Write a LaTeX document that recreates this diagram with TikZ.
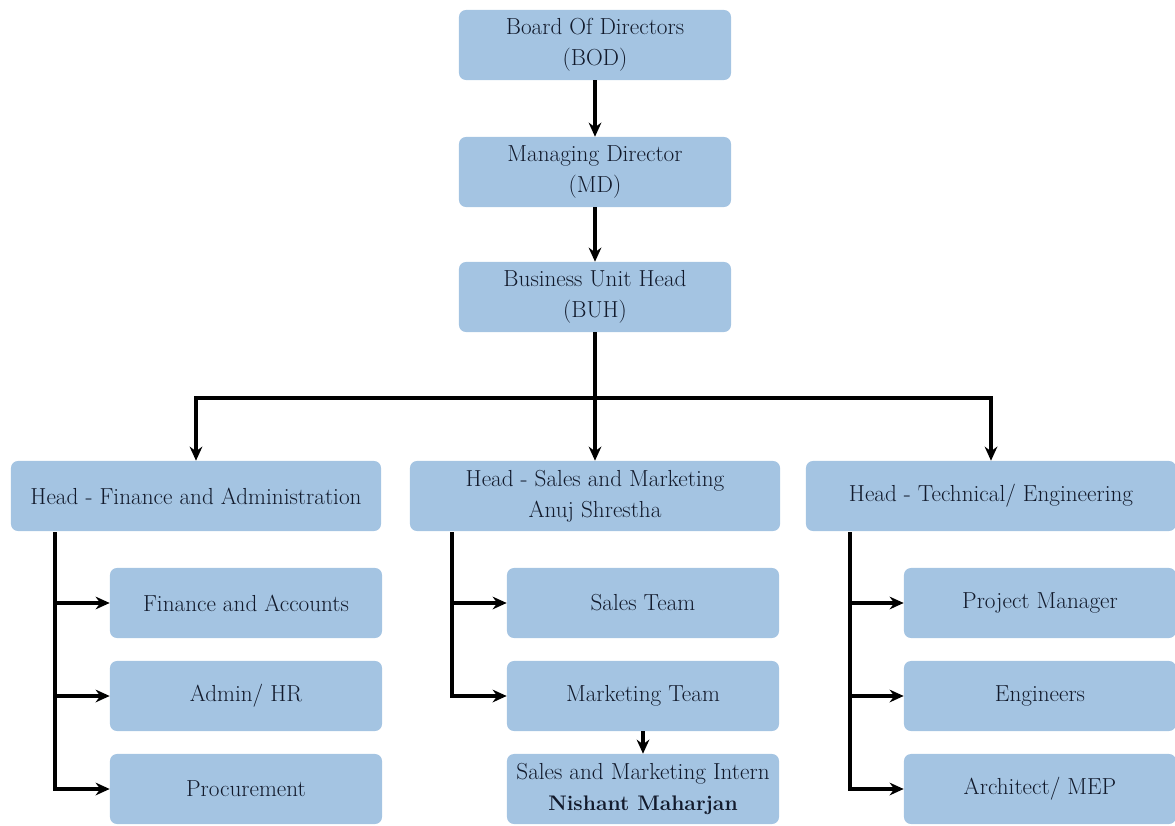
\documentclass[tikz,border=0pt]{standalone}
\usetikzlibrary{arrows.meta}
\definecolor{boxblue}{RGB}{164,196,226}
\definecolor{boxtext}{RGB}{18,26,44}
\begin{document}
\begin{tikzpicture}[
            x=0.025cm, y=-0.025cm,
            >={Stealth[length=10pt,width=9pt]},
            unit/.style={rectangle, rounded corners=5pt, fill=boxblue, text=boxtext,
                         minimum width=6.8cm, minimum height=1.75cm, inner sep=2pt,
                         align=center, font=\fontsize{16.5}{22}\selectfont},
            head/.style={unit, minimum width=9.25cm},
            link/.style={draw=black, line width=2.2pt}
            ]
            \useasboundingbox (0,0) rectangle (1175,826);

            % top of the chart
            \node[unit] (bod) at (595,45) {Board Of Directors\\(BOD)};
            \node[unit] (md) at (595,172) {Managing Director\\(MD)};
            \node[unit] (buh) at (595,297) {Business Unit Head\\(BUH)};

            % heads
            \node[head] (hfa) at (196,496) {Head - Finance and Administration};
            \node[head] (hsm) at (595,496) {Head - Sales and Marketing\\Anuj Shrestha};
            \node[head] (hte) at (991,496) {Head - Technical/ Engineering};

            % finance and administration
            \node[unit] (fa) at (246,603) {Finance and Accounts};
            \node[unit] (hr) at (246,696) {Admin/ HR};
            \node[unit] (pro) at (246,789) {Procurement};

            % sales and marketing
            \node[unit] (st) at (643,603) {Sales Team};
            \node[unit] (mt) at (643,696) {Marketing Team};
            \node[unit] (int) at (643,789) {Sales and Marketing Intern\\{\fontsize{15}{22}\selectfont\bfseries Nishant Maharjan}};

            % technical
            \node[unit] (pm) at (1040,603) {Project Manager};
            \node[unit] (eng) at (1040,696) {Engineers};
            \node[unit] (arc) at (1040,789) {Architect/ MEP};

            \coordinate (j) at (595,398);
            \coordinate (fl) at (55,532);
            \coordinate (sl) at (452,532);
            \coordinate (tl) at (850,532);

            \draw[link, ->] (bod) -- (md);
            \draw[link, ->] (md) -- (buh);
            \draw[link] (buh) -- (j);
            \draw[link, ->] (j) -| (hfa);
            \draw[link, ->] (j) -- (hsm);
            \draw[link, ->] (j) -| (hte);

            \draw[link, ->] (fl) |- (fa);
            \draw[link, ->] (fl) |- (hr);
            \draw[link, ->] (fl) |- (pro);
            \draw[link, ->] (sl) |- (st);
            \draw[link, ->] (sl) |- (mt);
            \draw[link, ->] (tl) |- (pm);
            \draw[link, ->] (tl) |- (eng);
            \draw[link, ->] (tl) |- (arc);
            \draw[link, ->] (mt.south) -- (int.north);

\end{tikzpicture}
\end{document}
